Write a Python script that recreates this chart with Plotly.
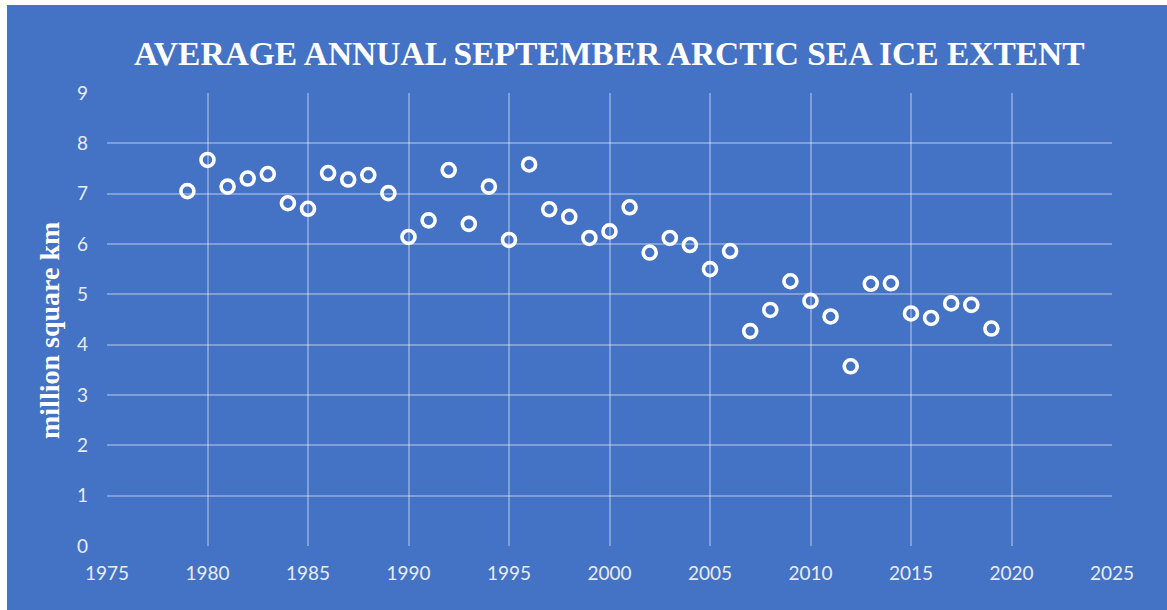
import plotly.graph_objects as go

# September average Arctic sea ice extent (million square km)
years = list(range(1979, 2020))
extent = [7.05, 7.67, 7.14, 7.30, 7.39, 6.81, 6.70, 7.41, 7.28, 7.37,
          7.01, 6.14, 6.47, 7.47, 6.40, 7.14, 6.08, 7.58, 6.69, 6.54,
          6.12, 6.25, 6.73, 5.83, 6.12, 5.98, 5.50, 5.86, 4.27, 4.69,
          5.26, 4.87, 4.56, 3.57, 5.21, 5.22, 4.62, 4.53, 4.82, 4.79,
          4.32]

x_ticks = [1975, 1980, 1985, 1990, 1995, 2000, 2005, 2010, 2015, 2020, 2025]
y_ticks = [0, 1, 2, 3, 4, 5, 6, 7, 8, 9]

title_text = "AVERAGE ANNUAL SEPTEMBER ARCTIC SEA ICE EXTENT"
y_title_text = "million square km"

W, H = 1167, 610
L, R, T, B = 107, 55, 93, 64
pw, ph = W - L - R, H - T - B

def px_x(px):
    return (px - L) / pw

def px_y(py):
    return (H - B - py) / ph

BLUE = "#4472c4"
GRID = "rgba(255,255,255,0.32)"
TICK = "#e8ecf5"

fig = go.Figure()
fig.add_trace(go.Scatter(
    x=years, y=extent, mode="markers",
    marker=dict(symbol="circle-open", size=13, color="white",
                line=dict(width=3.6, color="white")),
    hoverinfo="x+y", showlegend=False,
))

fig.update_layout(
    width=W, height=H,
    margin=dict(l=L, r=R, t=T, b=B, pad=0),
    paper_bgcolor=BLUE, plot_bgcolor=BLUE,
    xaxis=dict(range=[1975, 2025], tickvals=x_ticks, showgrid=True,
               gridcolor=GRID, gridwidth=1.5, zeroline=False, showline=False,
               ticks="", ticklabelstandoff=14,
               tickfont=dict(family="Lato", size=19, color=TICK)),
    yaxis=dict(range=[0, 9], tickvals=y_ticks, showgrid=True,
               gridcolor=GRID, gridwidth=1.5, zeroline=False, showline=False,
               ticks="", ticklabelstandoff=18,
               tickfont=dict(family="Lato", size=19, color=TICK)),
    annotations=[
        dict(text="<b>" + title_text + "</b>", xref="paper", yref="paper",
             x=0.5, y=px_y(53), xanchor="center", yanchor="middle",
             showarrow=False,
             font=dict(family="Liberation Serif", size=33.5, color="white")),
        dict(text="<b>" + y_title_text + "</b>", xref="paper", yref="paper",
             x=px_x(49), y=px_y(331), xanchor="center", yanchor="middle",
             textangle=-90, showarrow=False,
             font=dict(family="Liberation Serif", size=28, color="white")),
    ],
    shapes=[
        # white strips along the top and left edges
        dict(type="rect", xref="paper", yref="paper",
             x0=px_x(-2), x1=px_x(7), y0=px_y(H + 2), y1=px_y(-2),
             fillcolor="white", line=dict(width=0), layer="above"),
        dict(type="rect", xref="paper", yref="paper",
             x0=px_x(-2), x1=px_x(W + 2), y0=px_y(5), y1=px_y(-2),
             fillcolor="white", line=dict(width=0), layer="above"),
    ],
)

fig.write_html("out.html")
